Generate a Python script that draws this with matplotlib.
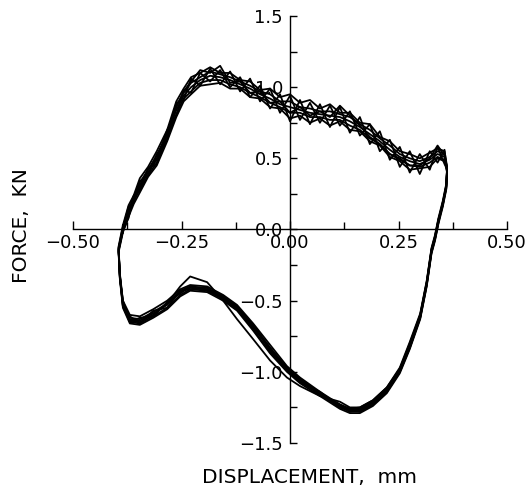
import numpy as np
import matplotlib
matplotlib.use("Agg")
import matplotlib.pyplot as plt
from matplotlib.ticker import MultipleLocator, FixedFormatter, FixedLocator

# displacement samples (mm), shared by all cycles
disp = [-0.385, -0.372, -0.360, -0.346, -0.327, -0.307, -0.283, -0.262, -0.245, -0.228,
        -0.207, -0.184, -0.161, -0.138, -0.115, -0.092, -0.069, -0.046, -0.023, 0.000,
        0.023, 0.046, 0.069, 0.092, 0.115, 0.138, 0.161, 0.184, 0.207, 0.230,
        0.253, 0.276, 0.299, 0.322, 0.340, 0.356, 0.362, 0.360, 0.352, 0.342,
        0.334, 0.326, 0.315, 0.300, 0.276, 0.253, 0.223, 0.191, 0.161, 0.138,
        0.115, 0.069, 0.023, -0.007, -0.046, -0.085, -0.122, -0.154, -0.191, -0.230,
        -0.253, -0.283, -0.315, -0.346, -0.369, -0.385, -0.392, -0.395, -0.385]

# force (kN) for each recorded cycle
force_c1 = [0.00, 0.12, 0.21, 0.30, 0.40, 0.49, 0.66, 0.84, 0.94, 1.00,
            1.05, 1.08, 1.07, 1.05, 1.02, 0.99, 0.95, 0.92, 0.88, 0.86,
            0.84, 0.82, 0.81, 0.80, 0.79, 0.76, 0.72, 0.67, 0.62, 0.56,
            0.51, 0.48, 0.46, 0.49, 0.53, 0.51, 0.42, 0.30, 0.18, 0.06,
            -0.06, -0.15, -0.38, -0.61, -0.82, -0.99, -1.13, -1.22, -1.27, -1.27,
            -1.24, -1.15, -1.06, -0.98, -0.84, -0.68, -0.55, -0.48, -0.42, -0.41,
            -0.44, -0.53, -0.59, -0.64, -0.63, -0.52, -0.33, -0.14, 0.00]
force_c2 = [0.03, 0.17, 0.24, 0.36, 0.44, 0.55, 0.70, 0.90, 0.99, 1.07,
            1.10, 1.14, 1.10, 1.10, 1.05, 1.04, 0.98, 0.99, 0.93, 0.95,
            0.89, 0.91, 0.85, 0.88, 0.82, 0.82, 0.75, 0.74, 0.65, 0.62,
            0.55, 0.53, 0.50, 0.54, 0.57, 0.55, 0.44, 0.32, 0.20, 0.08,
            -0.04, -0.13, -0.36, -0.59, -0.79, -0.97, -1.11, -1.20, -1.25, -1.26,
            -1.23, -1.14, -1.04, -0.96, -0.81, -0.66, -0.53, -0.46, -0.40, -0.39,
            -0.42, -0.50, -0.56, -0.61, -0.60, -0.50, -0.31, -0.12, 0.03]
force_c3 = [-0.02, 0.09, 0.18, 0.26, 0.37, 0.45, 0.62, 0.79, 0.90, 0.95,
            1.01, 1.02, 1.03, 0.99, 0.99, 0.93, 0.92, 0.86, 0.85, 0.78,
            0.80, 0.75, 0.78, 0.73, 0.76, 0.70, 0.69, 0.62, 0.59, 0.51,
            0.48, 0.42, 0.43, 0.44, 0.50, 0.48, 0.40, 0.28, 0.16, 0.04,
            -0.08, -0.17, -0.40, -0.63, -0.84, -1.01, -1.15, -1.24, -1.29, -1.29,
            -1.26, -1.17, -1.08, -1.00, -0.87, -0.71, -0.57, -0.50, -0.44, -0.43,
            -0.47, -0.56, -0.62, -0.67, -0.66, -0.55, -0.35, -0.16, -0.02]
force_c4 = [0.01, 0.16, 0.19, 0.34, 0.38, 0.53, 0.63, 0.89, 0.91, 1.06,
            1.01, 1.13, 1.02, 1.11, 0.97, 1.06, 0.90, 0.99, 0.82, 0.94,
            0.77, 0.89, 0.75, 0.87, 0.73, 0.83, 0.66, 0.74, 0.55, 0.63,
            0.44, 0.55, 0.39, 0.55, 0.47, 0.56, 0.41, 0.31, 0.17, 0.07,
            -0.05, -0.14, -0.37, -0.60, -0.81, -0.98, -1.12, -1.21, -1.26, -1.28,
            -1.23, -1.16, -1.05, -0.99, -0.83, -0.69, -0.54, -0.49, -0.41, -0.42,
            -0.43, -0.55, -0.57, -0.66, -0.61, -0.54, -0.32, -0.15, 0.01]
force_c5 = [-0.01, 0.08, 0.24, 0.27, 0.43, 0.46, 0.70, 0.80, 0.98, 0.96,
            1.10, 1.04, 1.12, 1.00, 1.07, 0.93, 1.01, 0.85, 0.95, 0.76,
            0.91, 0.74, 0.88, 0.72, 0.86, 0.68, 0.79, 0.60, 0.69, 0.49,
            0.58, 0.40, 0.53, 0.42, 0.58, 0.46, 0.43, 0.29, 0.19, 0.05,
            -0.07, -0.16, -0.39, -0.62, -0.83, -1.00, -1.14, -1.23, -1.28, -1.26,
            -1.25, -1.14, -1.07, -0.97, -0.85, -0.67, -0.56, -0.47, -0.43, -0.40,
            -0.45, -0.51, -0.61, -0.62, -0.65, -0.50, -0.34, -0.13, -0.01]
force_c6 = [0.00, 0.14, 0.20, 0.31, 0.42, 0.50, 0.68, 0.86, 0.97, 1.04,
            1.12, 1.10, 1.15, 1.03, 1.04, 0.96, 0.97, 0.89, 0.90, 0.82,
            0.86, 0.80, 0.83, 0.79, 0.87, 0.80, 0.73, 0.65, 0.60, 0.53,
            0.50, 0.45, 0.45, 0.50, 0.59, 0.52, 0.43, 0.30, 0.18, 0.06,
            -0.06, -0.15, -0.38, -0.61, -0.82, -0.98, -1.11, -1.20, -1.25, -1.25,
            -1.21, -1.17, -1.10, -1.04, -0.92, -0.77, -0.63, -0.50, -0.37, -0.33,
            -0.40, -0.52, -0.60, -0.65, -0.64, -0.53, -0.33, -0.14, 0.00]
force_c7 = [0.02, 0.14, 0.23, 0.33, 0.42, 0.52, 0.68, 0.87, 0.96, 1.03,
            1.07, 1.11, 1.09, 1.07, 1.04, 1.01, 0.97, 0.95, 0.90, 0.90,
            0.86, 0.85, 0.83, 0.83, 0.81, 0.79, 0.74, 0.70, 0.64, 0.59,
            0.53, 0.50, 0.48, 0.51, 0.55, 0.53, 0.43, 0.31, 0.19, 0.07,
            -0.05, -0.14, -0.37, -0.60, -0.80, -0.98, -1.12, -1.21, -1.26, -1.26,
            -1.23, -1.15, -1.05, -0.97, -0.83, -0.67, -0.54, -0.47, -0.41, -0.40,
            -0.43, -0.52, -0.58, -0.63, -0.62, -0.51, -0.32, -0.13, 0.02]
force_c8 = [-0.01, 0.10, 0.20, 0.28, 0.38, 0.47, 0.64, 0.81, 0.92, 0.97,
            1.03, 1.05, 1.05, 1.02, 1.00, 0.96, 0.93, 0.89, 0.86, 0.82,
            0.82, 0.79, 0.79, 0.77, 0.77, 0.73, 0.70, 0.64, 0.60, 0.53,
            0.49, 0.45, 0.44, 0.47, 0.51, 0.49, 0.41, 0.29, 0.17, 0.05,
            -0.07, -0.16, -0.39, -0.62, -0.83, -1.00, -1.14, -1.23, -1.28, -1.28,
            -1.25, -1.16, -1.07, -0.99, -0.86, -0.70, -0.56, -0.49, -0.43, -0.42,
            -0.46, -0.55, -0.61, -0.66, -0.65, -0.54, -0.34, -0.15, -0.01]

cycles = [force_c1, force_c2, force_c3, force_c4,
          force_c5, force_c6, force_c7, force_c8]

x_ticks = [-0.50, -0.25, 0.00, 0.25, 0.50]
x_labels = ["\u22120.50", "\u22120.25", "0.00", "0.25", "0.50"]
y_ticks = [-1.5, -1.0, -0.5, 0.0, 0.5, 1.0, 1.5]
y_labels = ["\u22121.5", "\u22121.0", "\u22120.5", "0.0", "0.5", "1.0", "1.5"]

plt.rcParams['font.family'] = ['DejaVu Sans']

fig = plt.figure(figsize=(5.29, 4.94), dpi=100)
ax = fig.add_axes([73 / 529, 1 - 443 / 494, 434 / 529, 427 / 494])

for f in cycles:
    ax.plot(disp, f, color='black', lw=1.3)

ax.set_xlim(-0.5, 0.5)
ax.set_ylim(-1.5, 1.5)

ax.spines['left'].set_position(('data', 0))
ax.spines['bottom'].set_position(('data', 0))
ax.spines['top'].set_visible(False)
ax.spines['right'].set_visible(False)
ax.spines['left'].set_linewidth(1.0)
ax.spines['bottom'].set_linewidth(1.0)

ax.xaxis.set_major_locator(FixedLocator(x_ticks))
ax.xaxis.set_major_formatter(FixedFormatter(x_labels))
ax.xaxis.set_minor_locator(MultipleLocator(0.125))
ax.yaxis.set_major_locator(FixedLocator(y_ticks))
ax.yaxis.set_major_formatter(FixedFormatter(y_labels))
ax.yaxis.set_minor_locator(MultipleLocator(0.25))

ax.tick_params(axis='x', which='major', direction='in', length=6, width=1.0,
               labelsize=13, pad=3)
ax.tick_params(axis='x', which='minor', direction='in', length=5, width=1.0)
ax.tick_params(axis='y', which='both', direction='in', length=5, width=1.0,
               labelsize=13, pad=5)

fig.text(22 / 529, 1 - 226 / 494, "FORCE,  KN", rotation=90,
         ha='center', va='center', fontsize=14.5)
fig.text(309 / 529, 1 - 477 / 494, "DISPLACEMENT,  mm",
         ha='center', va='center', fontsize=14.5)

fig.savefig("out.png", dpi=100)
